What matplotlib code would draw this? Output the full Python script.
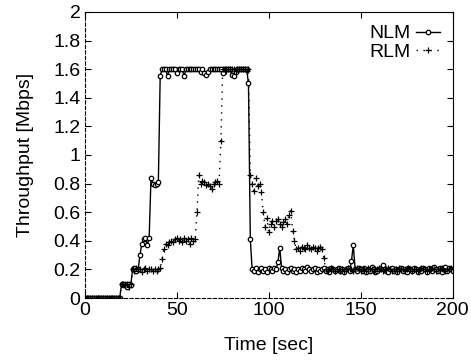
import matplotlib
matplotlib.use('Agg')
import matplotlib.pyplot as plt
import numpy as np

plt.rcParams['font.family'] = ['Liberation Sans', 'DejaVu Sans']
plt.rcParams['font.size'] = 14

# 采样时间 0..200 s，每秒一个点
time = np.arange(0, 201)

# NLM 吞吐量 (Mbps)
nlm = ([0.0] * 20
       + [0.1, 0.09, 0.1, 0.08, 0.1, 0.09]
       + [0.2, 0.21, 0.19, 0.2]
       + [0.3]
       + [0.38, 0.41, 0.42, 0.37, 0.42]
       + [0.84, 0.8, 0.79, 0.8, 0.81]
       + [1.55, 1.6, 1.6, 1.6, 1.55, 1.6, 1.6, 1.6, 1.6, 1.57,
          1.6, 1.6, 1.6, 1.55, 1.6, 1.6, 1.6, 1.6, 1.6, 1.6,
          1.6, 1.6, 1.58, 1.6, 1.57, 1.56, 1.58, 1.6, 1.6, 1.6,
          1.6, 1.6, 1.6, 1.6, 1.57, 1.6, 1.6, 1.6, 1.6, 1.56,
          1.55, 1.58, 1.6, 1.6, 1.6, 1.6, 1.6, 1.6]
       + [1.5]
       + [0.41]
       + [0.2, 0.19, 0.21, 0.18, 0.2, 0.21, 0.19, 0.2, 0.18, 0.21,
          0.2, 0.19, 0.21, 0.2, 0.25, 0.35, 0.21, 0.19, 0.2, 0.18,
          0.2, 0.21, 0.19, 0.2, 0.18, 0.2, 0.19, 0.21, 0.2, 0.19,
          0.22, 0.2, 0.19, 0.2, 0.21, 0.18, 0.2, 0.19, 0.2, 0.21,
          0.19, 0.2, 0.18, 0.21, 0.2, 0.19, 0.2, 0.21, 0.19, 0.2,
          0.18, 0.2, 0.21, 0.19, 0.26, 0.37, 0.2, 0.19, 0.21, 0.2,
          0.19, 0.21, 0.18, 0.2, 0.19, 0.22, 0.2, 0.18, 0.19, 0.2,
          0.21, 0.23, 0.2, 0.19, 0.18, 0.2, 0.21, 0.19, 0.2, 0.18,
          0.2, 0.21, 0.19, 0.2, 0.18, 0.21, 0.2, 0.19, 0.21, 0.2,
          0.18, 0.2, 0.19, 0.21, 0.2, 0.18, 0.21, 0.2, 0.19, 0.22,
          0.2, 0.19, 0.21, 0.18, 0.2, 0.22, 0.19, 0.21, 0.2, 0.19])

# RLM 吞吐量 (Mbps)
rlm = ([0.0] * 20
       + [0.1, 0.1, 0.09, 0.1, 0.08, 0.1]
       + [0.2, 0.19, 0.21, 0.2, 0.2, 0.18, 0.2, 0.21, 0.19, 0.2,
          0.2, 0.19, 0.2, 0.19, 0.2, 0.21]
       + [0.27, 0.34]
       + [0.38, 0.37, 0.39, 0.4, 0.39, 0.41, 0.42, 0.4, 0.41, 0.39,
          0.42, 0.4, 0.41, 0.38, 0.42, 0.4, 0.41]
       + [0.6]
       + [0.86]
       + [0.8, 0.82, 0.81, 0.79, 0.8, 0.78, 0.76, 0.8, 0.81, 0.82, 0.8]
       + [1.1]
       + [1.6, 1.6, 1.59, 1.6, 1.6, 1.6, 1.6, 1.59, 1.6, 1.6,
          1.6, 1.6, 1.6, 1.59, 1.6]
       + [0.86]
       + [0.8, 0.75, 0.84, 0.78, 0.8, 0.74]
       + [0.6]
       + [0.5, 0.56, 0.46, 0.52, 0.54, 0.5, 0.54, 0.55, 0.52, 0.5,
          0.53, 0.55, 0.52, 0.58, 0.61]
       + [0.47]
       + [0.4]
       + [0.34, 0.35, 0.33, 0.36, 0.35, 0.34, 0.37, 0.35, 0.34, 0.36,
          0.35, 0.33, 0.35, 0.36, 0.34]
       + [0.28]
       + [0.2, 0.19, 0.2, 0.21, 0.2, 0.19, 0.2, 0.2, 0.19, 0.2,
          0.19, 0.2, 0.21, 0.2, 0.2, 0.19, 0.2, 0.21, 0.2, 0.19,
          0.2, 0.2, 0.19, 0.21, 0.2, 0.2, 0.19, 0.2, 0.2, 0.21,
          0.2, 0.19, 0.2, 0.2, 0.21, 0.2, 0.19, 0.2, 0.2, 0.19,
          0.21, 0.2, 0.2, 0.19, 0.2, 0.21, 0.2, 0.19, 0.2, 0.2,
          0.19, 0.2, 0.21, 0.2, 0.2, 0.19, 0.2, 0.2, 0.21, 0.2,
          0.19, 0.2, 0.2, 0.21, 0.2, 0.19, 0.2, 0.2, 0.21, 0.2])

fig = plt.figure(figsize=(4.71, 3.6), dpi=100)
ax = fig.add_axes([0.18, 0.172, 0.781, 0.795])

ax.plot(time, nlm, color='black', linewidth=1.0, marker='o', markersize=3.2,
        markerfacecolor='white', markeredgewidth=0.9, label='NLM')
ax.plot(time, rlm, color='black', linewidth=1.0, linestyle=(0, (1, 4)),
        marker='+', markersize=4.5, markeredgewidth=0.9, label='RLM')

ax.set_xlim(0, 200)
ax.set_ylim(0, 2)
ax.set_xticks([0, 50, 100, 150, 200])
ax.set_yticks(np.arange(0, 2.01, 0.2))
ax.set_yticklabels(['0', '0.2', '0.4', '0.6', '0.8', '1', '1.2', '1.4', '1.6', '1.8', '2'])
ax.tick_params(direction='in', length=4, width=0.8, top=True, right=True, pad=3)

for side in ['top', 'right']:
    ax.spines[side].set_linewidth(0.8)
for side in ['left', 'bottom']:
    ax.spines[side].set_linewidth(0.8)
    ax.spines[side].set_linestyle((0, (3, 2)))

ax.set_xlabel('Time [sec]', labelpad=13)
ax.set_ylabel('Throughput [Mbps]', labelpad=14)

ax.legend(loc='upper right', bbox_to_anchor=(0.986, 0.982), frameon=False,
          markerfirst=False, handlelength=1.2, handletextpad=0.3,
          labelspacing=0.05, borderaxespad=0)

fig.savefig('out.png', dpi=100)
